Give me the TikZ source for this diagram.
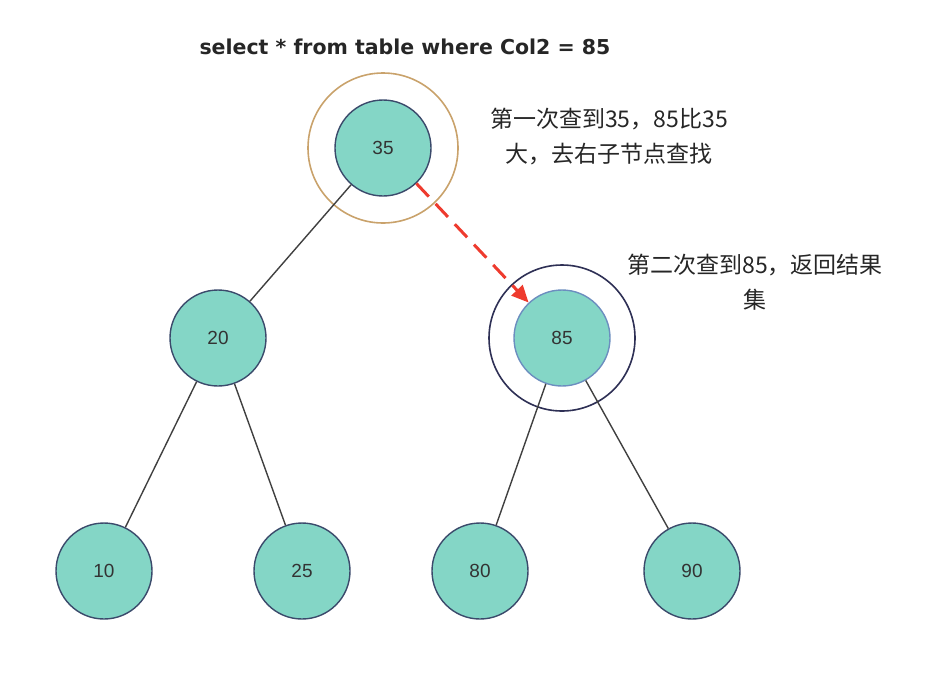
\documentclass[tikz,border=0pt]{standalone}
\usepackage{fontspec}
\setmainfont{Liberation Sans}
\newfontfamily\titlefont{DejaVu Sans}
\newfontfamily\cjk{Noto Sans CJK SC}
\usetikzlibrary{arrows.meta}
\definecolor{nodefill}{HTML}{84D6C6}
\definecolor{nodeline}{HTML}{3B4A6B}
\definecolor{ringtan}{HTML}{C9A26B}
\definecolor{ringnavy}{HTML}{2E3055}
\definecolor{hitline}{HTML}{6C8EBF}
\definecolor{searchred}{HTML}{EE3B2E}

\begin{document}
\begin{tikzpicture}[x=1pt,y=-1pt,
		key/.style={circle,draw=nodeline,line width=1.4pt,fill=nodefill,minimum size=96pt,inner sep=0pt,font=\fontsize{19}{22}\selectfont,text=black!80},
		ring/.style={circle,draw,line width=1.6pt,inner sep=0pt},
		link/.style={draw=black!75,line width=1.4pt},
		note/.style={align=center,font=\cjk\fontsize{23}{35}\selectfont,text=black!85}]
			\useasboundingbox (0,0) rectangle (952,678);
			% rings round the visited keys
			\node[ring,draw=ringtan,minimum size=150pt] (r35) at (383,148) {};
			\node[ring,draw=ringnavy,minimum size=146pt] (r85) at (562,338) {};
			% keys of the tree
			\node[key] (n35) at (383,148) {35};
			\node[key] (n20) at (218,338) {20};
			\node[key,draw=hitline] (n85) at (562,338) {85};
			\node[key] (n10) at (104,571) {10};
			\node[key] (n25) at (302,571) {25};
			\node[key] (n80) at (480,571) {80};
			\node[key] (n90) at (692,571) {90};
			\draw[link] (n35)--(n20);
			\draw[link] (n20)--(n10);
			\draw[link] (n20)--(n25);
			\draw[link] (n85)--(n80);
			\draw[link] (n85)--(n90);
			% search step
			\draw[searchred,line width=3pt,dash pattern=on 18pt off 10pt,-{Triangle[length=17pt,width=15pt]}] (n35)--(n85);
			\node[font=\titlefont\bfseries\fontsize{20.5}{24}\selectfont,text=black!85] (query) at (405,47) {select * from table where Col2 = 85};
			\node[note] (first) at (609,137) {第一次查到35，85比35\\大，去右子节点查找};
			\node[note] (second) at (755,282) {第二次查到85，返回结果\\集};
		\end{tikzpicture}
\end{document}
